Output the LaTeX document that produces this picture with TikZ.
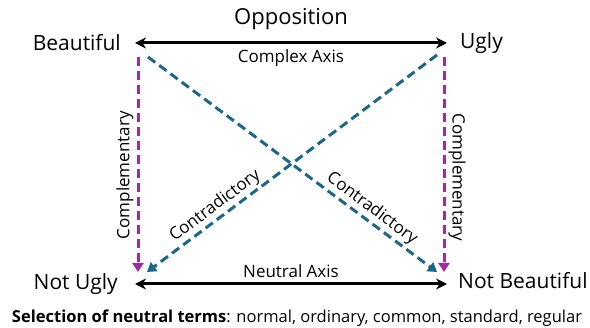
\documentclass[tikz,border=0pt]{standalone}
\usepackage{fontspec}
\setmainfont{Open Sans}
\usetikzlibrary{positioning,arrows.meta}

\definecolor{contrablue}{RGB}{27,103,135}
\definecolor{complpink}{RGB}{160,43,160}

\begin{document}
\begin{tikzpicture}[x=1pt,y=-1pt,
    term/.style={font=\fontsize{21}{25}\selectfont, inner sep=0pt},
    small/.style={font=\fontsize{17}{20}\selectfont, inner sep=2pt, text=black},
    axis/.style={line width=3pt, {Stealth[length=11pt,width=11pt]}-{Stealth[length=11pt,width=11pt]}},
    compl/.style={complpink, line width=3pt, dash pattern=on 9pt off 5pt, -{Triangle[length=9pt,width=11pt]}},
    contra/.style={contrablue, line width=3pt, dash pattern=on 9pt off 5pt, -{Triangle[length=9pt,width=11pt]}}]

    \useasboundingbox (0,0) rectangle (590,328);

    \coordinate (tl) at (135,43);
    \coordinate (tr) at (447,43);
    \coordinate (bl) at (135,284);
    \coordinate (br) at (447,284);

    \node (beau) [term, left=14pt of tl] {Beautiful};
    \node (ugly) [term, right=13pt of tr] {Ugly};
    \node (notugly) [term, left=17pt of bl] {Not Ugly};
    \node (notbeau) [term, right=11pt of br, yshift=3pt] {Not Beautiful};

    % axes
    \draw[axis] (tl) -- node[term, above=12pt, font=\fontsize{22}{26}\selectfont] (opp) {Opposition}
                        node[small, below=3pt] (cax) {Complex Axis} (tr);
    \draw[axis] (bl) -- node[small, above=3pt] (nax) {Neutral Axis} (br);

    % complementary
    \draw[compl] ([xshift=3pt,yshift=-14pt]tl) -- node[small, pos=0.55, rotate=90, anchor=south, inner sep=3pt] {Complementary}
                 ([xshift=3pt,yshift=12pt]bl);
    \draw[compl] ([xshift=-3pt,yshift=-14pt]tr) -- node[small, pos=0.56, rotate=-90, anchor=south, inner sep=3pt] {Complementary}
                 ([xshift=-3pt,yshift=12pt]br);

    % contradictory
    \draw[contra] ([xshift=13pt,yshift=-14pt]tl) -- node[small, pos=0.75, sloped, above] {Contradictory}
                  ([xshift=-10pt,yshift=12pt]br);
    \draw[contra] ([xshift=-10pt,yshift=-12pt]tr) -- node[small, pos=0.74, sloped, above] {Contradictory}
                  ([xshift=12pt,yshift=12pt]bl);

    \node (terms) [font=\fontsize{16.5}{20}\selectfont, inner sep=0pt] at (297,318)
        {\textbf{Selection of neutral terms}: normal, ordinary, common, standard, regular};

\end{tikzpicture}
\end{document}
